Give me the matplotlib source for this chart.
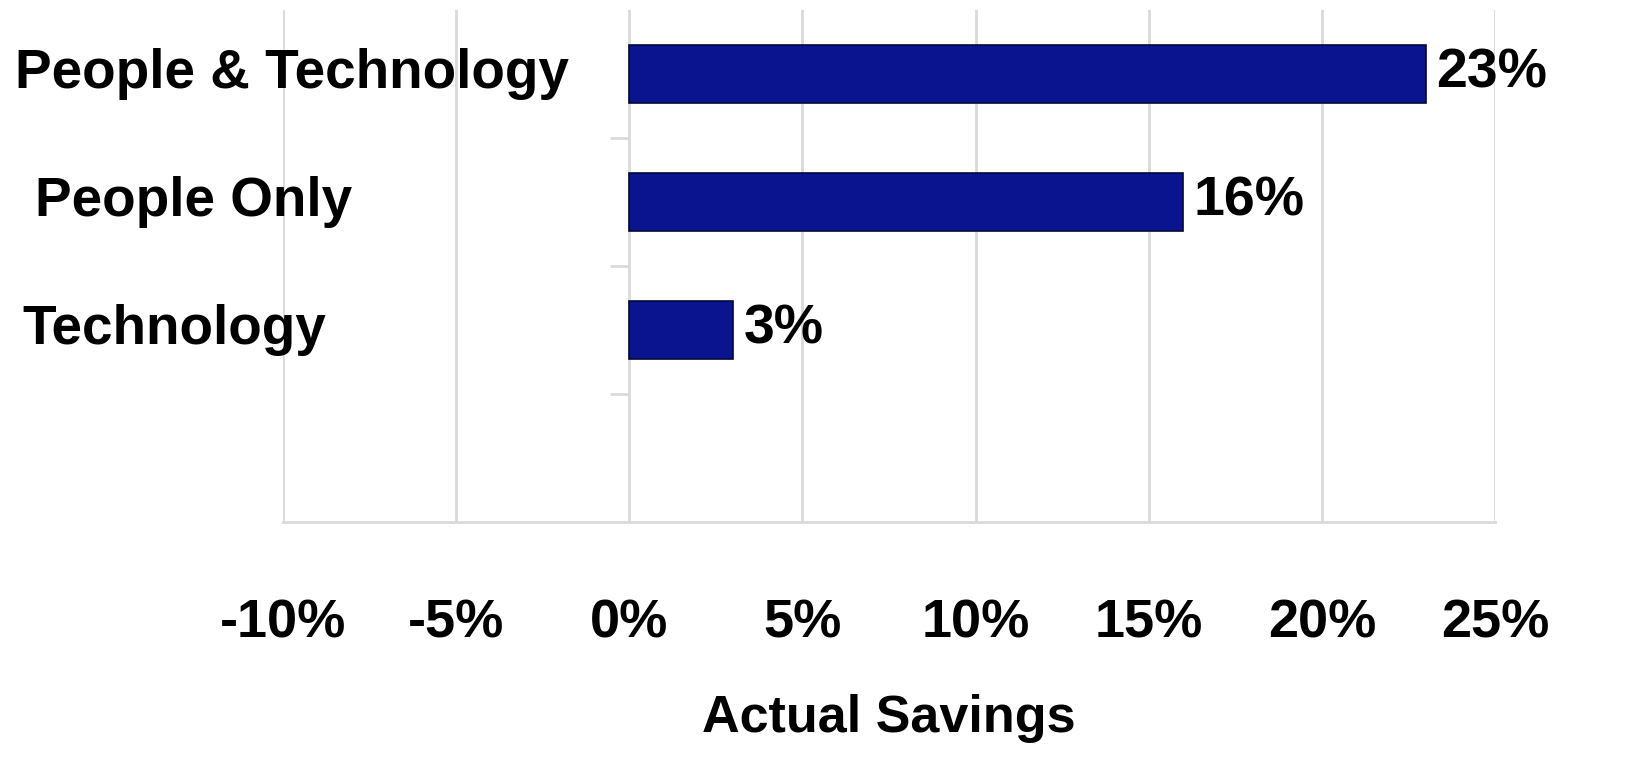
import numpy as np
import matplotlib.pyplot as plt
from matplotlib.ticker import FixedLocator, PercentFormatter
from matplotlib.transforms import blended_transform_factory

categories = ["People & Technology", "People Only", "Technology"]
savings = [23, 16, 3]
label_x = [15, 35, 22]  # left edge of category labels, in pixels
xticks = [-10, -5, 0, 5, 10, 15, 20, 25]

plt.rcParams['font.family'] = ['Liberation Sans', 'DejaVu Sans']
plt.rcParams['font.weight'] = 'bold'
plt.rcParams['axes.unicode_minus'] = False

W, H = 1625, 768
fig = plt.figure(figsize=(W / 100, H / 100), dpi=100)
ax = fig.add_axes([283 / W, (H - 522) / H, (1495 - 283) / W, (522 - 10) / H])

ypos = np.arange(len(categories))[::-1] + 1
ax.barh(ypos, savings, height=0.45, color='#0b148f', edgecolor='#05083a', linewidth=1.2, zorder=3)

for y, v in zip(ypos, savings):
    ax.text(v + 0.3, y, f"{v}%", va='center', ha='left', fontsize=40, fontweight='bold', color='black')

trans = blended_transform_factory(fig.transFigure, ax.transData)
for y, name, lx in zip(ypos, categories, label_x):
    ax.text(lx / W, y, name, transform=trans, va='center', ha='left', fontsize=39.5, fontweight='bold')

ax.set_xlim(-10, 25)
ax.set_ylim(-0.5, 3.5)
ax.set_xticks(xticks)
ax.xaxis.set_major_formatter(PercentFormatter(decimals=0))
ax.tick_params(axis='x', length=0, pad=55, labelsize=39)
ax.grid(axis='x', color='#d9d9d9', linewidth=2, zorder=0)

ax.set_yticks([])
ax.yaxis.set_minor_locator(FixedLocator([0.5, 1.5, 2.5]))
ax.spines['left'].set_position(('data', 0))
ax.spines['left'].set_visible(False)
ax.tick_params(axis='y', which='minor', length=14, width=2, color='#d9d9d9', left=True)
ax.tick_params(axis='y', which='major', left=False)

for s in ['top', 'right']:
    ax.spines[s].set_visible(False)
ax.spines['bottom'].set_color('#d9d9d9')
ax.spines['bottom'].set_linewidth(2)

ax.set_xlabel("Actual Savings", fontsize=37.5, fontweight='bold', labelpad=33)

fig.savefig("out.png", dpi=100)
